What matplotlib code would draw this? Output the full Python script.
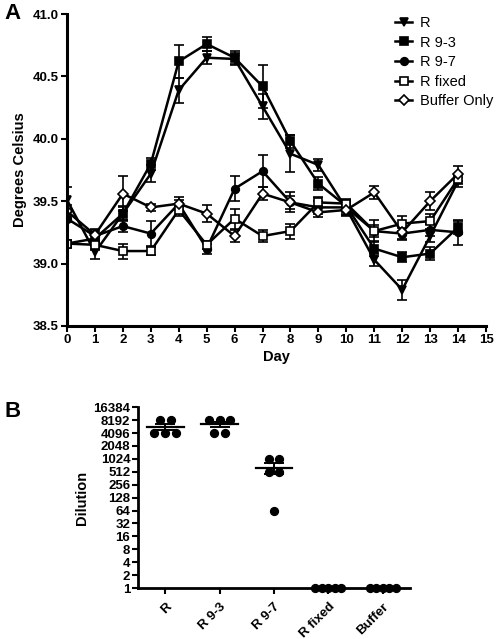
import numpy as np
import matplotlib
matplotlib.use("Agg")
import matplotlib.pyplot as plt
from matplotlib.lines import Line2D

plt.rcParams['font.family'] = ['Liberation Sans', 'DejaVu Sans']

# ---------------- Panel A data ----------------
days = list(range(15))
R_vals      = [39.51, 39.09, 39.40, 39.72, 40.39, 40.65, 40.64, 40.26, 39.88, 39.79, 39.44, 39.03, 38.79, 39.22, 39.66]
R_err       = [0.10, 0.05, 0.06, 0.07, 0.10, 0.05, 0.05, 0.10, 0.15, 0.05, 0.05, 0.05, 0.08, 0.05, 0.05]
R93_vals    = [39.16, 39.20, 39.40, 39.80, 40.62, 40.76, 40.65, 40.42, 39.98, 39.64, 39.46, 39.12, 39.05, 39.08, 39.29]
R93_err     = [0.03, 0.05, 0.05, 0.05, 0.13, 0.06, 0.05, 0.17, 0.05, 0.05, 0.05, 0.06, 0.04, 0.05, 0.05]
R97_vals    = [39.36, 39.22, 39.30, 39.24, 39.48, 39.12, 39.60, 39.74, 39.49, 39.45, 39.45, 39.26, 39.24, 39.27, 39.25]
R97_err     = [0.03, 0.05, 0.05, 0.10, 0.05, 0.04, 0.10, 0.13, 0.08, 0.05, 0.05, 0.05, 0.05, 0.05, 0.10]
Rfix_vals   = [39.16, 39.15, 39.10, 39.10, 39.43, 39.15, 39.36, 39.22, 39.26, 39.49, 39.48, 39.26, 39.32, 39.34, 39.68]
Rfix_err    = [0.03, 0.04, 0.06, 0.03, 0.05, 0.03, 0.08, 0.05, 0.06, 0.04, 0.04, 0.09, 0.06, 0.06, 0.04]
Buf_vals    = [39.42, 39.23, 39.56, 39.45, 39.48, 39.40, 39.22, 39.56, 39.49, 39.41, 39.43, 39.57, 39.25, 39.50, 39.72]
Buf_err     = [0.05, 0.05, 0.14, 0.03, 0.03, 0.07, 0.05, 0.05, 0.05, 0.04, 0.05, 0.05, 0.05, 0.07, 0.06]
series_names = ["R", "R 9-3", "R 9-7", "R fixed", "Buffer Only"]

# ---------------- Panel B data ----------------
groups = ["R", "R 9-3", "R 9-7", "R fixed", "Buffer"]
R_titers      = [8192, 8192, 4096, 4096, 4096]
R93_titers    = [8192, 8192, 8192, 4096, 4096]
R97_titers    = [1024, 1024, 512, 512, 64]
Rfix_titers   = [1, 1, 1, 1, 1]
Buf_titers    = [1, 1, 1, 1, 1]
dil_ticks = [1, 2, 4, 8, 16, 32, 64, 128, 256, 512, 1024, 2048, 4096, 8192, 16384]

fig = plt.figure(figsize=(5.0, 6.39), dpi=100)

# ---------------- Panel A ----------------
axA = fig.add_axes([0.134, 0.490, 0.838, 0.488])
styles = [
    dict(marker='v', mfc='black', ms=6),
    dict(marker='s', mfc='black', ms=5.5),
    dict(marker='o', mfc='black', ms=5.5),
    dict(marker='s', mfc='white', ms=5.5),
    dict(marker='D', mfc='white', ms=5),
]
all_vals = [R_vals, R93_vals, R97_vals, Rfix_vals, Buf_vals]
all_err = [R_err, R93_err, R97_err, Rfix_err, Buf_err]
handles = []
for name, v, e, st in zip(series_names, all_vals, all_err, styles):
    axA.errorbar(days, v, yerr=e, color='black', lw=1.8, capsize=3.5,
                 elinewidth=1.2, capthick=1.2, mec='black', mew=1.2, **st)
    handles.append(Line2D([], [], color='black', lw=1.8, mec='black', mew=1.2, **st))
axA.set_xlim(0, 15)
axA.set_ylim(38.5, 41.0)
axA.set_xticks(range(16))
axA.set_yticks([38.5, 39.0, 39.5, 40.0, 40.5, 41.0])
axA.set_yticklabels([f"{t:.1f}" for t in [38.5, 39.0, 39.5, 40.0, 40.5, 41.0]])
for s in ['top', 'right']:
    axA.spines[s].set_visible(False)
for s in ['left', 'bottom']:
    axA.spines[s].set_linewidth(2.2)
axA.tick_params(axis='both', width=1.5, length=4, labelsize=9.5, pad=2)
for lab in axA.get_xticklabels() + axA.get_yticklabels():
    lab.set_fontweight('bold')
axA.set_xlabel("Day", fontsize=10.5, fontweight='bold', labelpad=3)
axA.set_ylabel("Degrees Celsius", fontsize=10.5, fontweight='bold', labelpad=4)
leg = axA.legend(handles=handles, labels=series_names, loc='upper left',
                 bbox_to_anchor=(0.778, 0.984), bbox_transform=fig.transFigure,
                 frameon=False, fontsize=10.5, handlelength=1.2, handletextpad=0.5,
                 labelspacing=0.38, borderaxespad=0)
fig.text(0.008, 0.996, "A", fontsize=16, fontweight='bold', va='top', ha='left')

# ---------------- Panel B ----------------
axB = fig.add_axes([0.276, 0.0798, 0.544, 0.283])
titers = [R_titers, R93_titers, R97_titers, Rfix_titers, Buf_titers]
for i, t in enumerate(titers):
    xc = i + 0.5
    t = np.array(t, dtype=float)
    xs = np.zeros(len(t))
    for val in np.unique(t):
        idx = np.where(t == val)[0]
        n = len(idx)
        sp = 0.2 if n <= 3 else 0.12
        xs[idx] = xc + (np.arange(n) - (n - 1) / 2) * sp
    axB.scatter(xs, t, s=32, color='black', zorder=3, clip_on=False)
    m = t.mean()
    sem = t.std(ddof=1) / np.sqrt(len(t))
    if sem > 0:
        axB.plot([xc - 0.34, xc + 0.34], [m, m], color='black', lw=1.6, zorder=4)
        axB.errorbar([xc], [m], yerr=[sem], color='black', capsize=7,
                     elinewidth=1.4, capthick=1.4, fmt='none', zorder=4)
axB.set_yscale('log', base=2)
axB.set_ylim(1, 16384)
axB.set_yticks(dil_ticks)
axB.set_yticklabels([str(d) for d in dil_ticks])
axB.yaxis.set_minor_locator(matplotlib.ticker.NullLocator())
axB.set_xlim(0, 5)
axB.set_xticks([i + 0.5 for i in range(5)])
axB.set_xticklabels(groups, rotation=45, ha='right', rotation_mode='anchor')
for s in ['top', 'right']:
    axB.spines[s].set_visible(False)
for s in ['left', 'bottom']:
    axB.spines[s].set_linewidth(2.0)
axB.tick_params(axis='both', width=1.5, length=4, pad=1.5)
axB.tick_params(axis='y', labelsize=9.5)
axB.tick_params(axis='x', labelsize=9.5, pad=5)
for lab in axB.get_xticklabels() + axB.get_yticklabels():
    lab.set_fontweight('bold')
axB.set_ylabel("Dilution", fontsize=10.5, fontweight='bold', labelpad=3)
fig.text(0.008, 0.372, "B", fontsize=16, fontweight='bold', va='top', ha='left')

fig.savefig("out.png", dpi=100)
